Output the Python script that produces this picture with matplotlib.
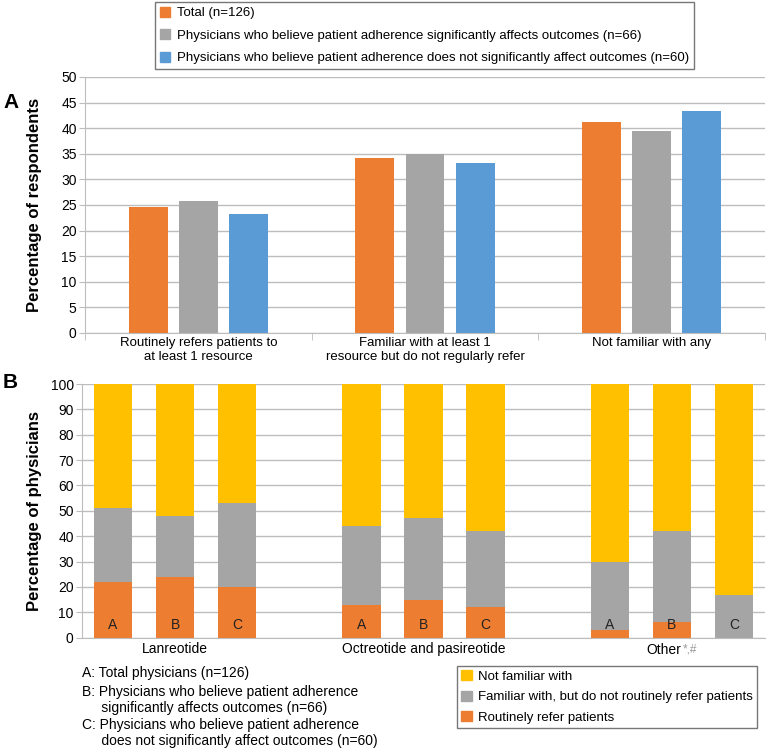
import matplotlib
matplotlib.use("Agg")
import matplotlib.pyplot as plt
from matplotlib.patches import Patch
import numpy as np

plt.rcParams['font.family'] = ['Liberation Sans', 'DejaVu Sans']
NARROW = ['Liberation Sans Narrow', 'Liberation Sans', 'DejaVu Sans']

ORANGE = '#ED7D31'
GRAY = '#A5A5A5'
BLUE = '#5B9BD5'
YELLOW = '#FFC000'
GRID = '#BDBDBD'

# Panel A data
cats_a = ["Routinely refers patients to\nat least 1 resource",
          "Familiar with at least 1\nresource but do not regularly refer",
          "Not familiar with any"]
total_a = [24.6, 34.1, 41.3]
sig_a = [25.8, 34.9, 39.4]
nonsig_a = [23.3, 33.3, 43.3]
series_a_labels = ["Total (n=126)",
                   "Physicians who believe patient adherence significantly affects outcomes (n=66)",
                   "Physicians who believe patient adherence does not significantly affect outcomes (n=60)"]

# Panel B data (groups x A/B/C)
drugs_b = ["Lanreotide", "Octreotide and pasireotide", "Other"]
groups_b = ["A", "B", "C"]
refer_b = [22, 24, 20, 13, 15, 12, 3, 6, 0]
familiar_top_b = [51, 48, 53, 44, 47, 42, 30, 42, 17]   # cumulative top of grey segment
bar_x_b = [0, 1, 2, 4, 5, 6, 8, 9, 10]
stack_labels_b = ["Not familiar with", "Familiar with, but do not routinely refer patients",
                  "Routinely refer patients"]
notes_b = ["A: Total physicians (n=126)",
           "B: Physicians who believe patient adherence\n     significantly affects outcomes (n=66)",
           "C: Physicians who believe patient adherence\n     does not significantly affect outcomes (n=60)"]

W, H = 766, 752
fig = plt.figure(figsize=(W / 100, H / 100), dpi=100)

def style_axes(ax):
    for s in ['top', 'right']:
        ax.spines[s].set_visible(False)
    ax.spines['left'].set_color(GRID)
    ax.spines['bottom'].set_color(GRID)
    ax.yaxis.grid(True, color=GRID, linewidth=1)
    ax.set_axisbelow(True)
    ax.tick_params(axis='y', length=4, color=GRID, labelsize=10, pad=2)

# ---- Panel A ----
axA = fig.add_axes([85 / W, 1 - 333 / H, 680 / W, 256 / H])
style_axes(axA)
x = np.arange(len(cats_a))
off, bw = 0.222, 0.172
axA.bar(x - off, total_a, bw, color=ORANGE)
axA.bar(x, sig_a, bw, color=GRAY)
axA.bar(x + off, nonsig_a, bw, color=BLUE)
axA.set_xlim(-0.5, 2.5)
axA.set_ylim(0, 50)
axA.set_yticks(range(0, 51, 5))
axA.set_xticks(x)
axA.set_xticklabels(cats_a, fontsize=9.5)
axA.tick_params(axis='x', length=0, pad=3)
axA.set_xticks([-0.5, 0.5, 1.5, 2.5], minor=True)
axA.tick_params(axis='x', which='minor', length=5, color=GRID)
axA.set_ylabel("Percentage of respondents", fontsize=12, fontweight='bold')
axA.yaxis.set_label_coords((42 - 85) / 680, 0.5)

# ---- Panel B ----
axB = fig.add_axes([82 / W, 1 - 637.7 / H, 683 / W, 253.7 / H])
style_axes(axB)
refer = np.array(refer_b)
fam = np.array(familiar_top_b) - refer
notfam = 100 - np.array(familiar_top_b)
bwb = 0.62
axB.bar(bar_x_b, refer, bwb, color=ORANGE)
axB.bar(bar_x_b, fam, bwb, bottom=refer, color=GRAY)
axB.bar(bar_x_b, notfam, bwb, bottom=refer + fam, color=YELLOW)
for i, xb in enumerate(bar_x_b):
    axB.text(xb, 5, groups_b[i % 3], ha='center', va='center', fontsize=10, color='#222222')
axB.set_xlim(-0.5, 10.5)
axB.set_ylim(0, 100)
axB.set_yticks(range(0, 101, 10))
axB.set_xticks([1, 5])
axB.set_xticklabels(drugs_b[:2], fontsize=10, family=NARROW)
axB.tick_params(axis='x', length=0, pad=3)
axB.annotate(drugs_b[2], xy=(9, 0), xycoords='data', xytext=(-6, -4), textcoords='offset points',
             ha='center', va='top', fontsize=10, family=NARROW)
axB.annotate("*,#", xy=(9, 0), xycoords='data', xytext=(8, -4), textcoords='offset points',
             ha='left', va='top', fontsize=8.5, color='#9A9A9A', family=NARROW)
axB.set_ylabel("Percentage of physicians", fontsize=12, fontweight='bold')
axB.yaxis.set_label_coords((42 - 82) / 683, 0.5)

# panel letters
fig.text(3 / W, 1 - 102 / H, "A", fontsize=15, fontweight='bold', va='center')
fig.text(3 / W, 1 - 383 / H, "B", fontsize=15, fontweight='bold', va='center')

# top legend
handles_a = [Patch(color=c) for c in (ORANGE, GRAY, BLUE)]
leg = fig.legend(handles_a, series_a_labels, loc='upper left', bbox_to_anchor=(155 / W, 1 - 2 / H),
                 prop={'family': NARROW, 'size': 9.5}, frameon=True, fancybox=False,
                 edgecolor='#555555', borderaxespad=0, handlelength=0.8, handleheight=0.8,
                 handletextpad=0.5, labelspacing=0.75, borderpad=0.35)
leg.get_frame().set_linewidth(1)

# bottom legend
handles_b = [Patch(color=c) for c in (YELLOW, GRAY, ORANGE)]
leg2 = fig.legend(handles_b, stack_labels_b, loc='upper left', bbox_to_anchor=(457 / W, 1 - 666 / H),
                  prop={'family': NARROW, 'size': 9.5}, frameon=True, fancybox=False,
                  edgecolor='#555555', borderaxespad=0, handlelength=0.8, handleheight=0.8,
                  handletextpad=0.5, labelspacing=0.6, borderpad=0.3)
leg2.get_frame().set_linewidth(1)

# A/B/C notes
note_y = [673, 700, 733]
for t, yy in zip(notes_b, note_y):
    fig.text(82 / W, 1 - yy / H, t, fontsize=10, family=NARROW, va='center', linespacing=1.25)

fig.savefig("out.png", dpi=100)
